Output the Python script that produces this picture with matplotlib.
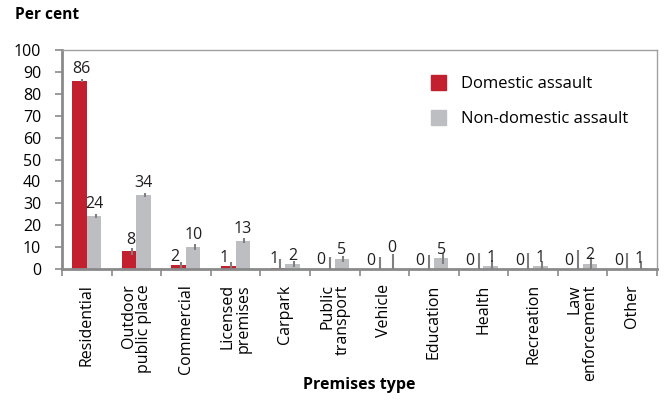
import numpy as np
import matplotlib.pyplot as plt
from matplotlib.patches import Patch

plt.rcParams['font.family'] = ['Open Sans', 'DejaVu Sans']

# premises types and values (per cent)
premises = ['Residential', 'Outdoor\npublic place', 'Commercial', 'Licensed\npremises',
            'Carpark', 'Public\ntransport', 'Vehicle', 'Education', 'Health',
            'Recreation', 'Law\nenforcement', 'Other']
domestic = [86.0, 8.0, 1.6, 1.3, 0.6, 0.2, 0, 0, 0, 0, 0, 0]
domestic_err = [0.8, 1.6, 1.7, 2.0, 3.8, 5.3, 5.3, 6.4, 7.2, 7.2, 8.7, 7.2]
nondomestic = [24.3, 33.8, 10.2, 12.9, 2.3, 4.6, 0, 4.9, 1.3, 1.2, 2.4, 0.6]
nondomestic_err = [1.0, 0.8, 1.4, 1.1, 1.5, 1.3, 6.8, 2.4, 2.6, 2.6, 3.0, 3.0]

red = '#c21f2f'
grey = '#bdbec1'
errc = '#808080'
axc = '#8a8a8a'

fig = plt.figure(figsize=(6.72, 4.0), dpi=100)
ax = fig.add_axes([62/672, 131/400, 595/672, 219/400])

x = np.arange(len(premises))
w = 0.293
ax.bar(x - w/2, domestic, w, color=red, zorder=2)
ax.bar(x + w/2, nondomestic, w, color=grey, zorder=2)
ax.errorbar(x - w/2 + 0.05, domestic, yerr=domestic_err, fmt='none', ecolor=errc,
            elinewidth=1.5, capsize=0, zorder=3)
ax.errorbar(x + w/2 + 0.03, nondomestic, yerr=nondomestic_err, fmt='none', ecolor=errc,
            elinewidth=1.5, capsize=0, zorder=3)

# value labels
for i in range(len(premises)):
    d = domestic[i]
    n = nondomestic[i]
    if round(d) == 0:
        ddx = -0.13
    elif d < 5:
        ddx = -0.08
    else:
        ddx = 0.03
    ny = n + nondomestic_err[i] if n == 0 else n
    for val, y, dx in ((d, d, -w/2 + ddx), (n, ny, w/2)):
        off = 5.5 if val >= 5 else 3.2
        if val == 0 and y > 0:
            off = 1.5
        ax.annotate('%d' % round(val), (x[i] + dx, y), xytext=(0, off),
                    textcoords='offset points', ha='center', va='baseline',
                    fontsize=11.5, color='#231f20')

ax.set_xlim(-0.5, len(premises) - 0.5)
ax.set_ylim(0, 100)
ax.set_yticks(range(0, 101, 10))
ax.set_xticks(x)
ax.set_xticklabels(premises, rotation=90, ha='center', va='top', multialignment='right',
                   linespacing=0.95)
ax.set_xticks(np.arange(-0.5, len(premises), 1), minor=True)
ax.tick_params(axis='x', which='major', length=0, pad=11, labelsize=11.5)
ax.tick_params(axis='x', which='minor', length=5, width=1.2, color=axc, direction='out')
ax.tick_params(axis='y', length=5, width=1.2, color=axc, pad=10, labelsize=11.5)

for s in ['left', 'bottom']:
    ax.spines[s].set_color(axc)
    ax.spines[s].set_linewidth(2)
for s in ['top', 'right']:
    ax.spines[s].set_color('#a0a0a0')
    ax.spines[s].set_linewidth(1)

fig.text(359.5/672, 1 - 385/400, 'Premises type', fontsize=11.5, fontweight='bold',
         ha='center', va='center')
fig.text(15/672, 1 - 19/400, 'Per cent', fontsize=11.2, fontweight='bold', va='baseline')

handles = [Patch(color=red, label='Domestic assault'),
           Patch(color=grey, label='Non-domestic assault')]
ax.legend(handles=handles, loc='upper left', bbox_to_anchor=(431/672, 1 - 75/400),
          bbox_transform=fig.transFigure, frameon=False, fontsize=12,
          handlelength=0.9, handleheight=1.0, handletextpad=0.9, labelspacing=1.05,
          borderpad=0, borderaxespad=0)

fig.savefig('out.png', dpi=100)
